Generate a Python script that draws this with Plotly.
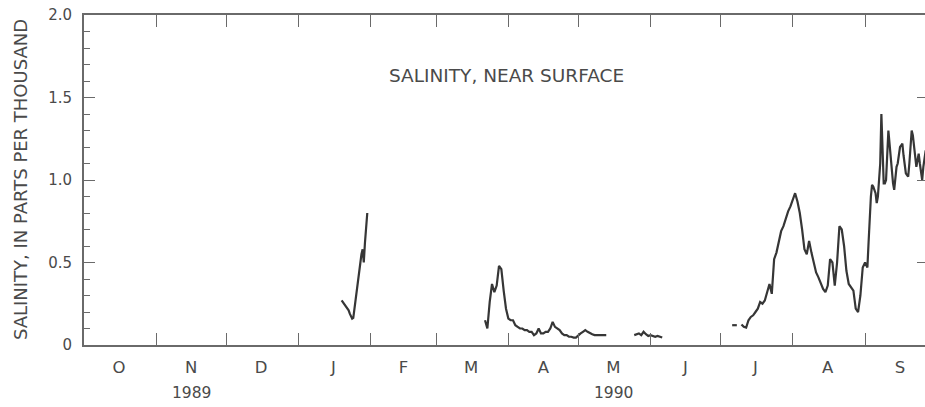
import plotly.graph_objects as go

# ---- data (salinity, parts per thousand) ----
jan_dates = ["1990-01-19 12:00", "1990-01-20 00:00", "1990-01-20 12:00", "1990-01-21 00:00",
             "1990-01-21 12:00", "1990-01-22 00:00", "1990-01-22 12:00", "1990-01-23 00:00",
             "1990-01-23 12:00", "1990-01-24 00:00", "1990-01-24 12:00", "1990-01-25 00:00",
             "1990-01-25 12:00", "1990-01-26 00:00", "1990-01-26 12:00", "1990-01-27 00:00",
             "1990-01-27 12:00", "1990-01-28 00:00", "1990-01-28 12:00", "1990-01-29 00:00",
             "1990-01-29 12:00", "1990-01-30 00:00", "1990-01-30 12:00"]
jan_vals = [0.27, 0.26, 0.25, 0.24, 0.23, 0.22, 0.21, 0.19, 0.17, 0.16, 0.165, 0.22,
            0.30, 0.36, 0.41, 0.45, 0.51, 0.55, 0.58, 0.50, 0.62, 0.70, 0.80]

spring_dates = ["1990-03-22", "1990-03-23", "1990-03-24", "1990-03-25", "1990-03-26",
                "1990-03-27", "1990-03-28", "1990-03-29", "1990-03-30", "1990-03-31",
                "1990-04-01", "1990-04-02", "1990-04-03", "1990-04-04", "1990-04-05",
                "1990-04-06", "1990-04-07", "1990-04-08", "1990-04-09", "1990-04-10",
                "1990-04-11", "1990-04-12", "1990-04-13", "1990-04-14", "1990-04-15",
                "1990-04-16", "1990-04-17", "1990-04-18", "1990-04-19", "1990-04-20",
                "1990-04-21", "1990-04-22", "1990-04-23", "1990-04-24", "1990-04-25",
                "1990-04-26", "1990-04-27", "1990-04-28", "1990-04-29", "1990-04-30",
                "1990-05-01", "1990-05-02", "1990-05-03", "1990-05-04", "1990-05-05",
                "1990-05-06", "1990-05-07", "1990-05-08", "1990-05-09", "1990-05-10",
                "1990-05-11", "1990-05-12", "1990-05-13"]
spring_vals = [0.15, 0.10, 0.26, 0.37, 0.32, 0.36, 0.48, 0.46, 0.33, 0.22,
               0.16, 0.15, 0.15, 0.12, 0.11, 0.10, 0.10, 0.09, 0.09, 0.08,
               0.08, 0.06, 0.07, 0.10, 0.07, 0.07, 0.08, 0.08, 0.10, 0.14,
               0.11, 0.10, 0.09, 0.07, 0.06, 0.06, 0.05, 0.05, 0.045, 0.045,
               0.06, 0.07, 0.08, 0.09, 0.08, 0.07, 0.065, 0.06, 0.06, 0.06,
               0.06, 0.06, 0.06]

june_dates = ["1990-05-25", "1990-05-26", "1990-05-27", "1990-05-28", "1990-05-29",
              "1990-05-30", "1990-05-31", "1990-06-01", "1990-06-02", "1990-06-03",
              "1990-06-04", "1990-06-05", "1990-06-06"]
june_vals = [0.06, 0.065, 0.07, 0.06, 0.08, 0.065, 0.055, 0.06, 0.055, 0.05, 0.055, 0.05, 0.045]

julyA_dates = ["1990-07-06", "1990-07-07", "1990-07-08"]
julyA_vals = [0.12, 0.12, 0.12]

summer_dates = ["1990-07-10", "1990-07-11", "1990-07-12", "1990-07-13", "1990-07-14",
                "1990-07-15", "1990-07-16", "1990-07-17", "1990-07-18", "1990-07-19",
                "1990-07-20", "1990-07-21", "1990-07-22", "1990-07-23", "1990-07-24",
                "1990-07-25", "1990-07-26", "1990-07-27", "1990-07-28", "1990-07-29",
                "1990-07-30", "1990-07-31", "1990-08-01", "1990-08-02", "1990-08-03",
                "1990-08-04", "1990-08-05", "1990-08-06", "1990-08-07", "1990-08-08",
                "1990-08-09", "1990-08-10", "1990-08-11", "1990-08-12", "1990-08-13",
                "1990-08-14", "1990-08-15", "1990-08-16", "1990-08-17", "1990-08-18",
                "1990-08-19", "1990-08-20", "1990-08-21", "1990-08-22", "1990-08-23",
                "1990-08-24", "1990-08-25", "1990-08-26", "1990-08-27", "1990-08-28",
                "1990-08-29", "1990-08-30", "1990-08-31", "1990-09-01",
                "1990-09-01 12:00", "1990-09-02 00:00", "1990-09-02 12:00", "1990-09-03 00:00",
                "1990-09-03 12:00", "1990-09-04 00:00", "1990-09-04 12:00", "1990-09-05 00:00",
                "1990-09-05 12:00", "1990-09-06 00:00", "1990-09-06 12:00", "1990-09-07 00:00",
                "1990-09-07 12:00", "1990-09-08 00:00", "1990-09-08 12:00", "1990-09-09 00:00",
                "1990-09-09 12:00", "1990-09-10 00:00", "1990-09-10 12:00", "1990-09-11 00:00",
                "1990-09-11 12:00", "1990-09-12 00:00", "1990-09-12 12:00", "1990-09-13 00:00",
                "1990-09-13 12:00", "1990-09-14 00:00", "1990-09-14 12:00", "1990-09-15 00:00",
                "1990-09-15 12:00", "1990-09-16 00:00", "1990-09-16 12:00", "1990-09-17 00:00",
                "1990-09-17 12:00", "1990-09-18 00:00", "1990-09-18 12:00", "1990-09-19 00:00",
                "1990-09-19 12:00", "1990-09-20 00:00", "1990-09-20 12:00", "1990-09-21 00:00",
                "1990-09-21 12:00", "1990-09-22 00:00", "1990-09-22 12:00", "1990-09-23 00:00",
                "1990-09-23 12:00", "1990-09-24 00:00", "1990-09-24 12:00", "1990-09-25 00:00",
                "1990-09-25 12:00", "1990-09-26 00:00", "1990-09-26 12:00", "1990-09-27 00:00",
                "1990-09-27 12:00", "1990-09-28 00:00"]
summer_vals = [0.125, 0.11, 0.105, 0.15, 0.17, 0.18, 0.20, 0.22, 0.26, 0.25,
               0.27, 0.32, 0.37, 0.31, 0.52, 0.56, 0.62, 0.69, 0.72, 0.77,
               0.81, 0.84, 0.88, 0.92, 0.87, 0.80, 0.70, 0.58, 0.55, 0.63,
               0.56, 0.49, 0.44, 0.41, 0.37, 0.34, 0.32, 0.36, 0.52, 0.50,
               0.36, 0.50, 0.72, 0.70, 0.60, 0.45, 0.37, 0.35, 0.33, 0.22,
               0.20, 0.30, 0.47, 0.50,
               0.48, 0.47, 0.62, 0.78, 0.90, 0.97, 0.96, 0.94, 0.92, 0.86,
               0.90, 1.00, 1.10, 1.40, 1.15, 0.98, 0.98, 1.00, 1.15, 1.30,
               1.22, 1.12, 1.04, 0.98, 0.94, 1.00, 1.08, 1.10, 1.15, 1.20,
               1.21, 1.22, 1.15, 1.08, 1.04, 1.03, 1.02, 1.10, 1.22, 1.30,
               1.27, 1.20, 1.14, 1.08, 1.12, 1.16, 1.10, 1.04, 1.00, 1.08,
               1.15, 1.18, 1.10, 1.05]

month_starts = ["1989-10-01", "1989-11-01", "1989-12-01", "1990-01-01", "1990-02-01",
                "1990-03-01", "1990-04-01", "1990-05-01", "1990-06-01", "1990-07-01",
                "1990-08-01", "1990-09-01", "1990-10-01"]
month_mids = ["1989-10-16", "1989-11-16", "1989-12-16", "1990-01-16", "1990-02-15",
              "1990-03-16", "1990-04-16", "1990-05-16", "1990-06-16", "1990-07-16",
              "1990-08-16", "1990-09-16"]
month_labels = ["O", "N", "D", "J", "F", "M", "A", "M", "J", "J", "A", "S"]
year_labels = ["1989", "1990"]
year_positions = ["1989-11-16", "1990-05-16"]

y_ticks = [0, 0.5, 1.0, 1.5, 2.0]
y_ticktext = ["0", "0.5", "1.0", "1.5", "2.0"]

# ---- build one series with gaps ----
xs, ys = [], []
for d, v in [(jan_dates, jan_vals), (spring_dates, spring_vals), (june_dates, june_vals),
             (julyA_dates, julyA_vals), (summer_dates, summer_vals)]:
    xs += d + [None]
    ys += v + [None]

TEXT = "#4a4a4a"
AXIS = "#6a6a6a"
FONT = "DejaVu Sans"
x_range = ["1989-10-01", "1990-09-26 17:00"]

fig = go.Figure()
fig.add_trace(go.Scatter(x=xs, y=ys, mode="lines", connectgaps=False,
                         line=dict(color="#363636", width=2.2), showlegend=False,
                         hoverinfo="skip"))

fig.update_layout(
    width=925, height=407,
    margin=dict(l=84, r=0, t=15, b=62, autoexpand=False),
    paper_bgcolor="white", plot_bgcolor="white",
    font=dict(family=FONT, color=TEXT, size=15),
    xaxis=dict(type="date", range=x_range, tickmode="array", tickvals=month_starts,
               ticks="inside", ticklen=12, tickwidth=1.2, tickcolor=AXIS,
               showticklabels=False, showgrid=False, zeroline=False,
               showline=True, linecolor=AXIS, linewidth=2, mirror="ticks",
               automargin=False),
    xaxis2=dict(type="date", range=x_range, overlaying="x", anchor="y", side="bottom",
                tickmode="array", tickvals=month_mids, ticktext=month_labels,
                ticks="", showgrid=False, zeroline=False, showline=False,
                ticklabelstandoff=10, automargin=False,
                tickfont=dict(family=FONT, size=16.5, color=TEXT)),
    yaxis=dict(range=[0, 2], tickmode="array", tickvals=y_ticks, ticktext=y_ticktext,
               ticks="inside", ticklen=11, tickwidth=1.2, tickcolor=AXIS,
               minor=dict(dtick=0.1, ticks="inside", ticklen=6, tickwidth=1.2, tickcolor=AXIS),
               showgrid=False, zeroline=False, showline=True, linecolor=AXIS, linewidth=2,
               ticklabelstandoff=7, automargin=False,
               tickfont=dict(family=FONT, size=15, color=TEXT)),
    yaxis2=dict(range=[0, 2], overlaying="y", side="right", anchor="x",
                tickmode="array", tickvals=y_ticks, showticklabels=False,
                ticks="inside", ticklen=8, tickwidth=1.2, tickcolor=AXIS,
                showgrid=False, zeroline=False, showline=False, automargin=False),
)

# invisible traces so the overlay axes exist
fig.add_trace(go.Scatter(x=[month_mids[0]], y=[None], xaxis="x2", yaxis="y",
                         showlegend=False, hoverinfo="skip"))
fig.add_trace(go.Scatter(x=[month_mids[0]], y=[None], xaxis="x", yaxis="y2",
                         showlegend=False, hoverinfo="skip"))

for lab, pos in zip(year_labels, year_positions):
    fig.add_annotation(x=pos, xref="x", y=-0.144, yref="paper", text=lab,
                       showarrow=False, font=dict(family=FONT, size=15.5, color=TEXT),
                       xanchor="center", yanchor="middle")

fig.add_annotation(x=-0.076, xref="paper", y=0.5, yref="paper",
                   text="SALINITY, IN PARTS PER THOUSAND", textangle=-90,
                   showarrow=False, font=dict(family=FONT, size=18, color=TEXT),
                   xanchor="center", yanchor="middle")
fig.add_annotation(x=0.502, xref="paper", y=0.818, yref="paper",
                   text="SALINITY, NEAR SURFACE", showarrow=False,
                   font=dict(family=FONT, size=18.5, color=TEXT),
                   xanchor="center", yanchor="middle")

fig.write_html(
    "out.html",
    config={"displayModeBar": False},
    post_script="document.body.style.margin='0';document.body.style.overflow='hidden';"
)
